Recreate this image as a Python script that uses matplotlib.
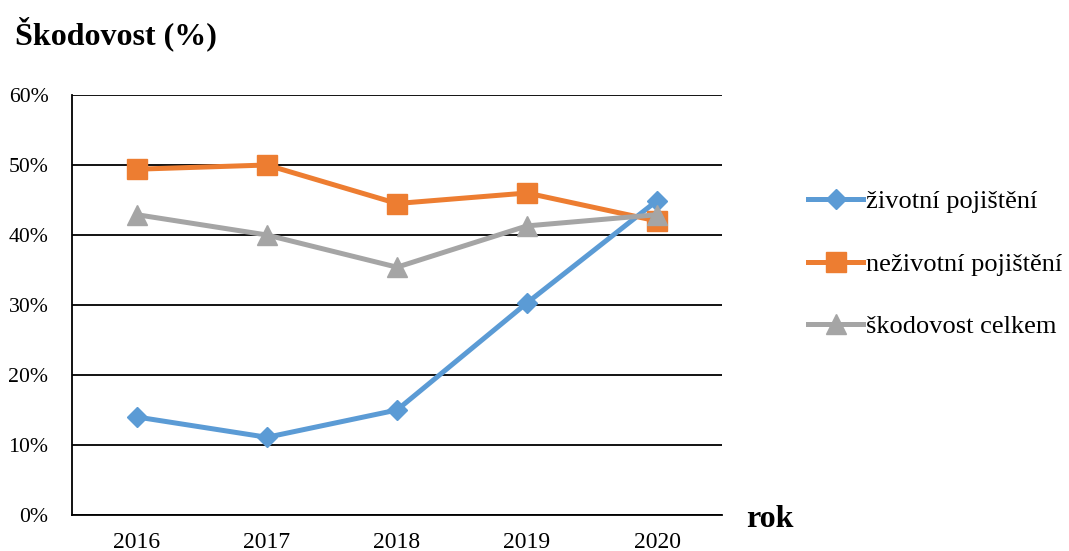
import matplotlib
matplotlib.use("Agg")
import matplotlib.pyplot as plt
from matplotlib.ticker import PercentFormatter

years = ["2016", "2017", "2018", "2019", "2020"]
zivotni = [14.0, 11.1, 15.0, 30.3, 44.9]
nezivotni = [49.4, 50.0, 44.5, 46.0, 42.0]
celkem = [42.9, 40.0, 35.4, 41.3, 42.9]
labels = ["životní pojištění", "neživotní pojištění", "škodovost celkem"]

plt.rcParams['font.family'] = ['Liberation Serif', 'DejaVu Serif']

fig = plt.figure(figsize=(10.69, 5.51), dpi=100)
ax = fig.add_axes([72/1069, 36/551, 650/1069, 420/551])

x = range(len(years))
lw = 3.6
ax.plot(x, zivotni, color='#5B9BD5', lw=lw, marker='D', ms=10.2, label=labels[0], zorder=3)
ax.plot(x, nezivotni, color='#ED7D31', lw=lw, marker='s', ms=14.4, label=labels[1], zorder=3)
ax.plot(x, celkem, color='#A5A5A5', lw=lw, marker='^', ms=14.4, label=labels[2], zorder=3)

ax.set_xlim(-0.5, 4.5)
ax.set_ylim(0, 60)
ax.set_yticks(range(0, 61, 10))
ax.yaxis.set_major_formatter(PercentFormatter(decimals=0))
ax.set_xticks(list(x))
ax.set_xticklabels(years)
ax.grid(axis='y', color='black', lw=1.3, zorder=1)
ax.set_axisbelow(True)
for s in ['top', 'right']:
    ax.spines[s].set_visible(False)
ax.spines['left'].set_linewidth(1.3)
ax.spines['bottom'].set_linewidth(1.3)
ax.tick_params(axis='both', length=0)
ax.tick_params(axis='y', pad=17, labelsize=15.7)
ax.tick_params(axis='x', pad=12, labelsize=17)

fig.text(15/1069, 1 - 44/551, "Škodovost (%)", fontsize=23, fontweight='bold', ha='left', va='baseline')
fig.text(746/1069, 1 - 527/551, "rok", fontsize=23, fontweight='bold', ha='left', va='baseline')

fig.legend(loc='center left', bbox_to_anchor=(808/1069, 1 - 264/551), frameon=False,
           fontsize=19, labelspacing=1.47, handlelength=2.1, handletextpad=0.1,
           borderpad=0, borderaxespad=0, markerscale=1.0)

fig.savefig("out.png", dpi=100)
